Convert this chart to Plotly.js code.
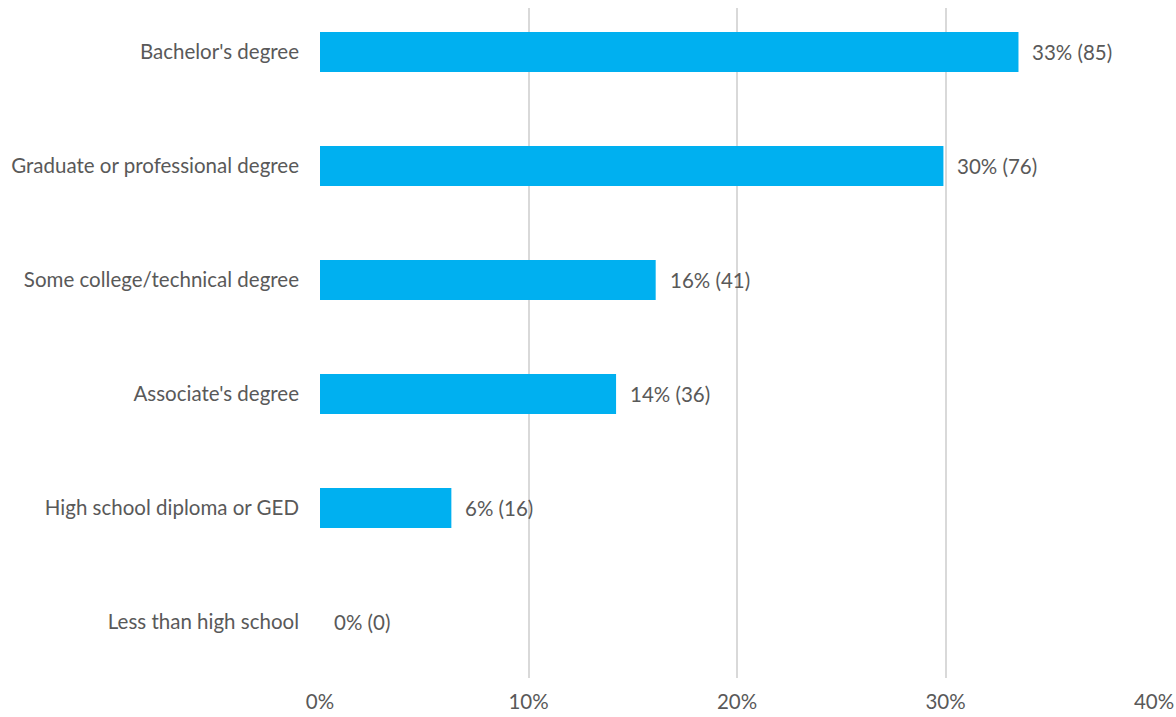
<!DOCTYPE html>
<html>
<head>
<meta charset="utf-8">
<script src="https://cdn.plot.ly/plotly-3.0.1.min.js"></script>
<style>html,body{margin:0;padding:0;background:#fff;}#chart{width:1176px;height:717px;}</style>
</head>
<body>
<div id="chart"></div>
<script>
// Categories, top to bottom
var categories = [
  "Bachelor's degree",
  "Graduate or professional degree",
  "Some college/technical degree",
  "Associate's degree",
  "High school diploma or GED",
  "Less than high school"
];
// Bar length (percent of respondents)
var percents = [33.5, 29.9, 16.1, 14.2, 6.3, 0];
// Printed labels
var percentLabels = ["33%", "30%", "16%", "14%", "6%", "0%"];
var counts = [85, 76, 41, 36, 16, 0];
var xTickVals = [0, 10, 20, 30, 40];
var xTickText = ["0%", "10%", "20%", "30%", "40%"];

var labelFont = {family: "Lato, 'Open Sans', sans-serif", size: 20.5, color: "#595959"};

var trace = {
  type: "bar",
  orientation: "h",
  y: categories,
  x: percents,
  width: 0.35,
  marker: {color: "#00B0F0"},
  hoverinfo: "x+y"
};

var annotations = categories.map(function (c, i) {
  return {
    x: percents[i], y: c, xref: "x", yref: "y",
    text: percentLabels[i] + " (" + counts[i] + ")",
    showarrow: false, xanchor: "left", yanchor: "middle", xshift: 12,
    font: labelFont
  };
});

var layout = {
  width: 1176, height: 717,
  margin: {l: 320, r: 22, t: 8, b: 39, pad: 0},
  paper_bgcolor: "#ffffff", plot_bgcolor: "#ffffff",
  showlegend: false,
  font: labelFont,
  xaxis: {
    range: [0, 40],
    tickvals: xTickVals, ticktext: xTickText,
    showgrid: true, gridcolor: "#d9d9d9", gridwidth: 2,
    zeroline: false, showline: false, ticks: "",
    ticklabelstandoff: 9,
    tickfont: labelFont, fixedrange: true
  },
  yaxis: {
    type: "category",
    categoryorder: "array", categoryarray: categories,
    range: [5.491, -0.386],
    showgrid: false, zeroline: false, showline: false, ticks: "",
    ticklabelstandoff: 20,
    tickfont: labelFont, fixedrange: true
  },
  annotations: annotations
};

Plotly.newPlot("chart", [trace], layout, {displayModeBar: false, staticPlot: true});
</script>
</body>
</html>
